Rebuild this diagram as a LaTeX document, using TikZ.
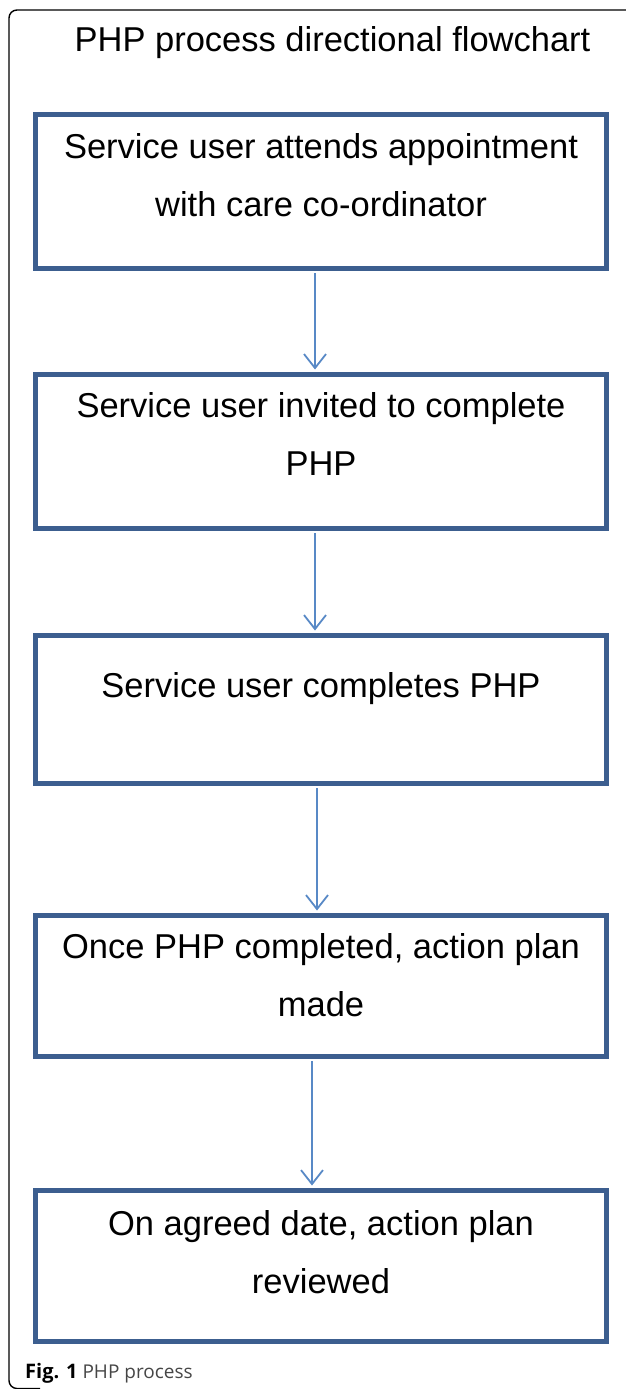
\documentclass[tikz,border=0pt]{standalone}
\usepackage{fontspec}
\setmainfont{Liberation Sans}
\newfontfamily\capfont{Open Sans}
\usetikzlibrary{arrows.meta}
\definecolor{boxblue}{RGB}{60,94,143}
\definecolor{arrowblue}{RGB}{88,137,198}
\definecolor{capgray}{RGB}{70,70,70}
\tikzset{
	stepbox/.style={draw=boxblue, line width=5pt, minimum width=571pt, inner sep=0pt},
	boxtext/.style={anchor=base, align=center, inner sep=0pt, font=\fontsize{34.5}{58}\selectfont},
	flowarrow/.style={draw=arrowblue, line width=1.8pt, shorten <=2.5pt, shorten >=2.5pt, -{Straight Barb[length=14pt,width=22pt]}}
}
\begin{document}
\begin{tikzpicture}[x=1pt,y=-1pt]
\useasboundingbox (0,0) rectangle (625,1389);
% frame round the figure
\draw[line width=1.4pt, rounded corners=8pt] (630,10) -| (9,1388.5) -- (40,1388.5);
\node[boxtext] (title) at (332.5,52) {PHP process directional flowchart};
% the boxes
\node[stepbox, minimum height=153.5pt] (b1) at (320.5,191.25) {};
\node[stepbox, minimum height=153.5pt] (b2) at (320.5,451.25) {};
\node[stepbox, minimum height=147.5pt] (b3) at (320.5,709.25) {};
\node[stepbox, minimum height=140.5pt] (b4) at (320.5,985.75) {};
\node[stepbox, minimum height=150.5pt] (b5) at (320.5,1265.75) {};
% base of a two line text is its last line
\node[boxtext] (t1) at (321,216) {Service user attends appointment\\with care co-ordinator};
\node[boxtext] (t2) at (321,475.7) {Service user invited to complete\\PHP};
\node[boxtext] (t3) at (321,697.7) {Service user completes PHP};
\node[boxtext] (t4) at (321,1016.3) {Once PHP completed, action plan\\made};
\node[boxtext] (t5) at (321,1293) {On agreed date, action plan\\reviewed};
% arrows
\foreach \a/\b/\s in {b1/b2/-5.5, b2/b3/-5.5, b3/b4/-3.5, b4/b5/-8.5}
{
	\draw[flowarrow] ([xshift=\s pt]\a.south) -- ([xshift=\s pt]\b.north);
}
\node[anchor=base west, inner sep=0pt, font=\capfont\fontsize{19}{23}\selectfont] (cap) at (25,1378) {\textbf{\fontsize{20}{23}\selectfont Fig. 1} \textcolor{capgray}{PHP process}};
\end{tikzpicture}
\end{document}
